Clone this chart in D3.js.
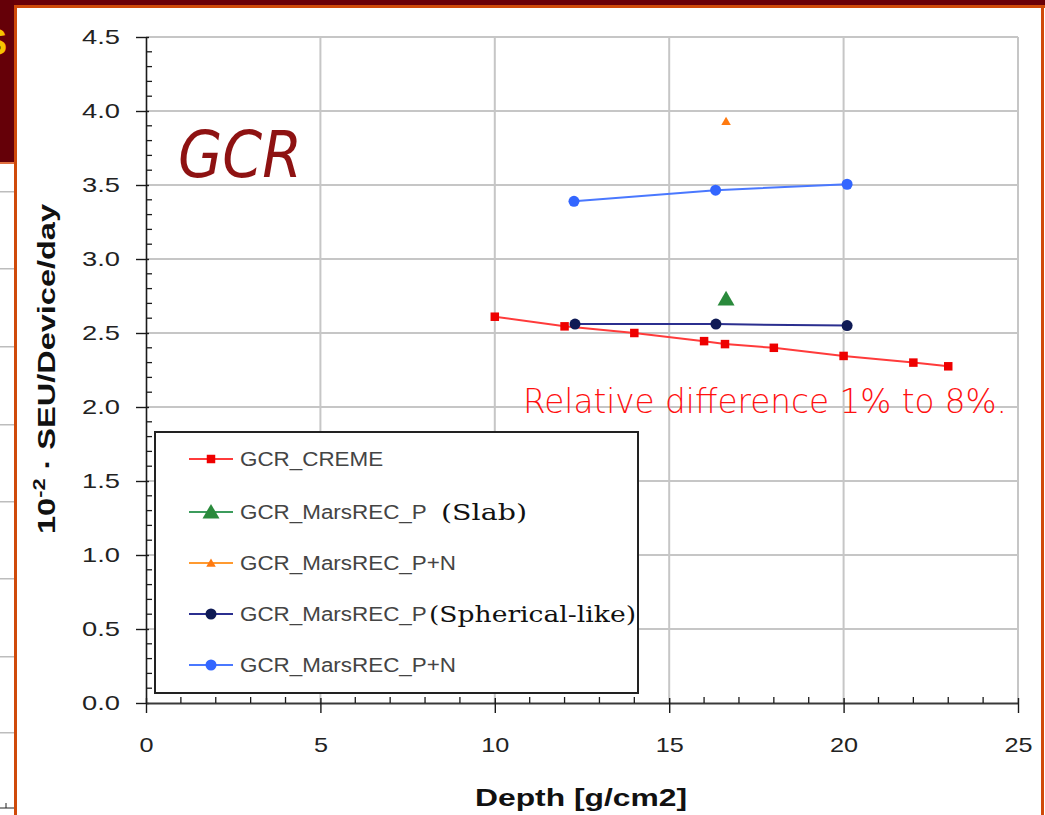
<!DOCTYPE html>
<html>
<head>
<meta charset="utf-8">
<script src="https://cdn.jsdelivr.net/npm/d3@7"></script>
<style>
  html, body { margin: 0; padding: 0; background: #ffffff; }
  svg { display: block; }
</style>
</head>
<body>
<svg id="chart" width="1045" height="815"></svg>
<script>
// Simulated SEU rates behind GCR shielding, versus shield depth
const xTickValues = [0, 5, 10, 15, 20, 25];
const yTickValues = [0, 0.5, 1.0, 1.5, 2.0, 2.5, 3.0, 3.5, 4.0, 4.5];

const cremeDepth = [10, 12, 14, 16, 16.6, 18, 20, 22, 23];
const cremeRate  = [2.61, 2.545, 2.50, 2.445, 2.425, 2.40, 2.345, 2.30, 2.275];

const slabPDepth = [16.63];
const slabPRate  = [2.73];

const slabPNDepth = [16.63];
const slabPNRate  = [3.93];

const sphPDepth = [12.3, 16.34, 20.1];
const sphPRate  = [2.56, 2.56, 2.55];

const sphPNDepth = [12.27, 16.33, 20.1];
const sphPNRate  = [3.39, 3.465, 3.505];

const seriesNames = ["GCR_CREME", "GCR_MarsREC_P", "GCR_MarsREC_P+N", "GCR_MarsREC_P", "GCR_MarsREC_P+N"];
const seriesNotes = ["", "(Slab)", "", "(Spherical-like)", ""];

const series = [
  { name: seriesNames[0], note: seriesNotes[0], xs: cremeDepth, ys: cremeRate,
    line: "#ff3b3b", fill: "#ee0000", marker: "square", size: 8.5 },
  { name: seriesNames[1], note: seriesNotes[1], xs: slabPDepth, ys: slabPRate,
    line: "#3c9c5c", fill: "#2a8a3c", marker: "triangle", size: 17 },
  { name: seriesNames[2], note: seriesNotes[2], xs: slabPNDepth, ys: slabPNRate,
    line: "#ff9a30", fill: "#ff7a10", marker: "triangle", size: 9.5 },
  { name: seriesNames[3], note: seriesNotes[3], xs: sphPDepth, ys: sphPRate,
    line: "#2b2f8f", fill: "#0f1a55", marker: "circle", size: 11 },
  { name: seriesNames[4], note: seriesNotes[4], xs: sphPNDepth, ys: sphPNRate,
    line: "#4a78ff", fill: "#3366ff", marker: "circle", size: 11 }
];

const svg = d3.select("#chart");

// widen text runs horizontally (the slide renders its fonts wide)
function widen(sel, factor) {
  sel.each(function () {
    const w = this.getComputedTextLength();
    d3.select(this).attr("textLength", w * factor).attr("lengthAdjust", "spacingAndGlyphs");
  });
}

// ---- slide frame ----
svg.append("rect").attr("x", 0).attr("y", 0).attr("width", 1045).attr("height", 815).attr("fill", "#ffffff");
svg.append("rect").attr("x", 0).attr("y", 0).attr("width", 1045).attr("height", 5).attr("fill", "#6a0008");
svg.append("rect").attr("x", 0).attr("y", 0).attr("width", 14).attr("height", 163).attr("fill", "#650008");
svg.append("text").attr("x", -17).attr("y", 55).attr("fill", "#f5c400")
  .attr("font-family", "Liberation Sans, Arial, sans-serif").attr("font-weight", "bold")
  .attr("font-size", 36).text("S");
svg.append("rect").attr("x", 0).attr("y", 162).attr("width", 14).attr("height", 2).attr("fill", "#e07040");
[191, 268, 346, 424, 501, 578, 656, 732].forEach(y => {
  svg.append("rect").attr("x", 0).attr("y", y).attr("width", 14).attr("height", 1.5).attr("fill", "#bdbdbd");
});
svg.append("line").attr("x1", 0).attr("x2", 14).attr("y1", 808).attr("y2", 808).attr("stroke", "#222").attr("stroke-width", 1);
svg.append("line").attr("x1", 6).attr("x2", 6).attr("y1", 803).attr("y2", 808).attr("stroke", "#222").attr("stroke-width", 1);
svg.append("rect").attr("x", 14).attr("y", 5).attr("width", 1031).attr("height", 3).attr("fill", "#cf4a0a");
svg.append("rect").attr("x", 14).attr("y", 5).attr("width", 3).attr("height", 810).attr("fill", "#cf4a0a");
svg.append("rect").attr("x", 1041).attr("y", 5).attr("width", 3).attr("height", 810).attr("fill", "#cf4a0a");

// ---- scales ----
const x = d3.scaleLinear().domain([0, 25]).range([146, 1018]);
const y = d3.scaleLinear().domain([0, 4.5]).range([703, 37]);

// ---- gridlines ----
const grid = svg.append("g");
grid.selectAll("line.h").data(yTickValues.filter(v => v > 0)).join("line")
  .attr("x1", x(0)).attr("x2", x(25))
  .attr("y1", d => y(d)).attr("y2", d => y(d))
  .attr("stroke", "#c6c6c6").attr("stroke-width", 2);
grid.selectAll("line.v").data(xTickValues.filter(v => v > 0)).join("line")
  .attr("x1", d => x(d)).attr("x2", d => x(d))
  .attr("y1", y(4.5)).attr("y2", y(0))
  .attr("stroke", "#c6c6c6").attr("stroke-width", 2);

// ---- axes ----
const tickFont = "Liberation Sans, Arial, Helvetica, sans-serif";

const yAxis = d3.axisLeft(y).tickValues(yTickValues).tickFormat(d3.format(".1f"))
  .tickSizeInner(10).tickSizeOuter(0).tickPadding(16);
const gy = svg.append("g").attr("transform", `translate(${x(0)},0)`).call(yAxis);
gy.select(".domain").attr("stroke", "#1a1a1a").attr("stroke-width", 1.6);
gy.selectAll(".tick line").attr("stroke", "#1a1a1a").attr("stroke-width", 1.4).attr("x2", -10).attr("x1", 3);
gy.selectAll(".tick text").attr("font-family", tickFont).attr("font-size", 21).attr("fill", "#222");
widen(gy.selectAll(".tick text"), 1.3);

const yMinor = d3.range(0, 45).map(i => i / 10).filter(v => Math.round(v * 10) % 5 !== 0);
svg.append("g").selectAll("line").data(yMinor).join("line")
  .attr("x1", x(0)).attr("x2", x(0) + 6)
  .attr("y1", d => y(d)).attr("y2", d => y(d))
  .attr("stroke", "#1a1a1a").attr("stroke-width", 1.3);

const xAxis = d3.axisBottom(x).tickValues(xTickValues).tickFormat(d3.format("d"))
  .tickSizeInner(10).tickSizeOuter(0).tickPadding(24);
const gx = svg.append("g").attr("transform", `translate(0,${y(0)})`).call(xAxis);
gx.select(".domain").attr("stroke", "#3a3a3a").attr("stroke-width", 2.2);
gx.selectAll(".tick line").attr("stroke", "#1a1a1a").attr("stroke-width", 1.4).attr("y1", -5).attr("y2", 10);
gx.selectAll(".tick text").attr("font-family", tickFont).attr("font-size", 21).attr("fill", "#222");
widen(gx.selectAll(".tick text"), 1.2);

const xMinor = d3.range(1, 25).filter(v => v % 5 !== 0);
svg.append("g").selectAll("line").data(xMinor).join("line")
  .attr("x1", d => x(d)).attr("x2", d => x(d))
  .attr("y1", y(0) - 6).attr("y2", y(0))
  .attr("stroke", "#1a1a1a").attr("stroke-width", 1.3);

// axis titles
svg.append("text").attr("x", 581).attr("y", 806).attr("text-anchor", "middle")
  .attr("font-family", tickFont).attr("font-weight", "bold").attr("font-size", 24).attr("fill", "#111")
  .attr("textLength", 212).attr("lengthAdjust", "spacingAndGlyphs")
  .text("Depth [g/cm2]");

const yTitle = svg.append("text").attr("transform", "translate(55,369) rotate(-90)")
  .attr("text-anchor", "middle").attr("font-family", tickFont).attr("font-weight", "bold")
  .attr("font-size", 24).attr("fill", "#111")
  .attr("textLength", 330).attr("lengthAdjust", "spacingAndGlyphs");
yTitle.append("tspan").text("10");
yTitle.append("tspan").attr("dy", -10).attr("font-size", 16).text("-2");
yTitle.append("tspan").attr("dy", 10).text("  \u00B7  SEU/Device/day");

// ---- series ----
const symbolFor = s => {
  if (s.marker === "square") return d3.symbol(d3.symbolSquare, s.size * s.size);
  if (s.marker === "triangle") return d3.symbol(d3.symbolTriangle, s.size * s.size * 0.433);
  return d3.symbol(d3.symbolCircle, Math.PI * (s.size / 2) * (s.size / 2));
};

const plot = svg.append("g");
series.forEach(s => {
  const pts = s.xs.map((v, i) => [v, s.ys[i]]);
  if (pts.length > 1) {
    plot.append("path").datum(pts)
      .attr("d", d3.line().x(d => x(d[0])).y(d => y(d[1])))
      .attr("fill", "none").attr("stroke", s.line).attr("stroke-width", 2);
  }
  plot.append("g").selectAll("path").data(pts).join("path")
    .attr("transform", d => `translate(${x(d[0])},${y(d[1]) + (s.marker === "triangle" ? s.size * 0.1 : 0)})`)
    .attr("d", symbolFor(s)).attr("fill", s.fill);
});

// ---- annotations ----
svg.append("text").attr("x", 178).attr("y", 177)
  .attr("font-family", "Comic Sans MS, DejaVu Sans, sans-serif").attr("font-style", "italic")
  .attr("font-size", 64).attr("fill", "#8e1212")
  .attr("textLength", 124).attr("lengthAdjust", "spacingAndGlyphs")
  .text("GCR");

svg.append("text").attr("x", 523).attr("y", 413)
  .attr("font-family", "DejaVu Sans, sans-serif").attr("font-weight", 200).attr("font-size", 34)
  .attr("fill", "#ff1010").attr("textLength", 484).attr("lengthAdjust", "spacingAndGlyphs")
  .text("Relative difference 1%  to  8%.");

// ---- legend ----
const legend = svg.append("g");
legend.append("rect").attr("x", 155).attr("y", 432).attr("width", 483).attr("height", 261)
  .attr("fill", "#ffffff").attr("stroke", "#222").attr("stroke-width", 2);
const rowY = [459, 512, 563, 614, 665];
const noteX = [0, 441, 0, 429, 0];
const noteW = [0, 86, 0, 207, 0];
series.forEach((s, i) => {
  const ry = rowY[i];
  legend.append("line").attr("x1", 189).attr("x2", 233).attr("y1", ry).attr("y2", ry)
    .attr("stroke", s.line).attr("stroke-width", 2);
  legend.append("path").attr("transform", `translate(211,${ry + (s.marker === "triangle" ? s.size * 0.1 : 0)})`)
    .attr("d", symbolFor(s)).attr("fill", s.fill);
  const t = legend.append("text").attr("x", 240).attr("y", ry + 7)
    .attr("font-family", tickFont).attr("font-size", 20).attr("fill", "#444")
    .text(s.name);
  widen(t, 1.12);
  if (s.note) {
    legend.append("text").attr("x", noteX[i]).attr("y", ry + 8)
      .attr("font-family", "DejaVu Serif, Liberation Serif, serif").attr("font-size", 23).attr("fill", "#111")
      .attr("textLength", noteW[i]).attr("lengthAdjust", "spacingAndGlyphs")
      .text(s.note);
  }
});
</script>
</body>
</html>
